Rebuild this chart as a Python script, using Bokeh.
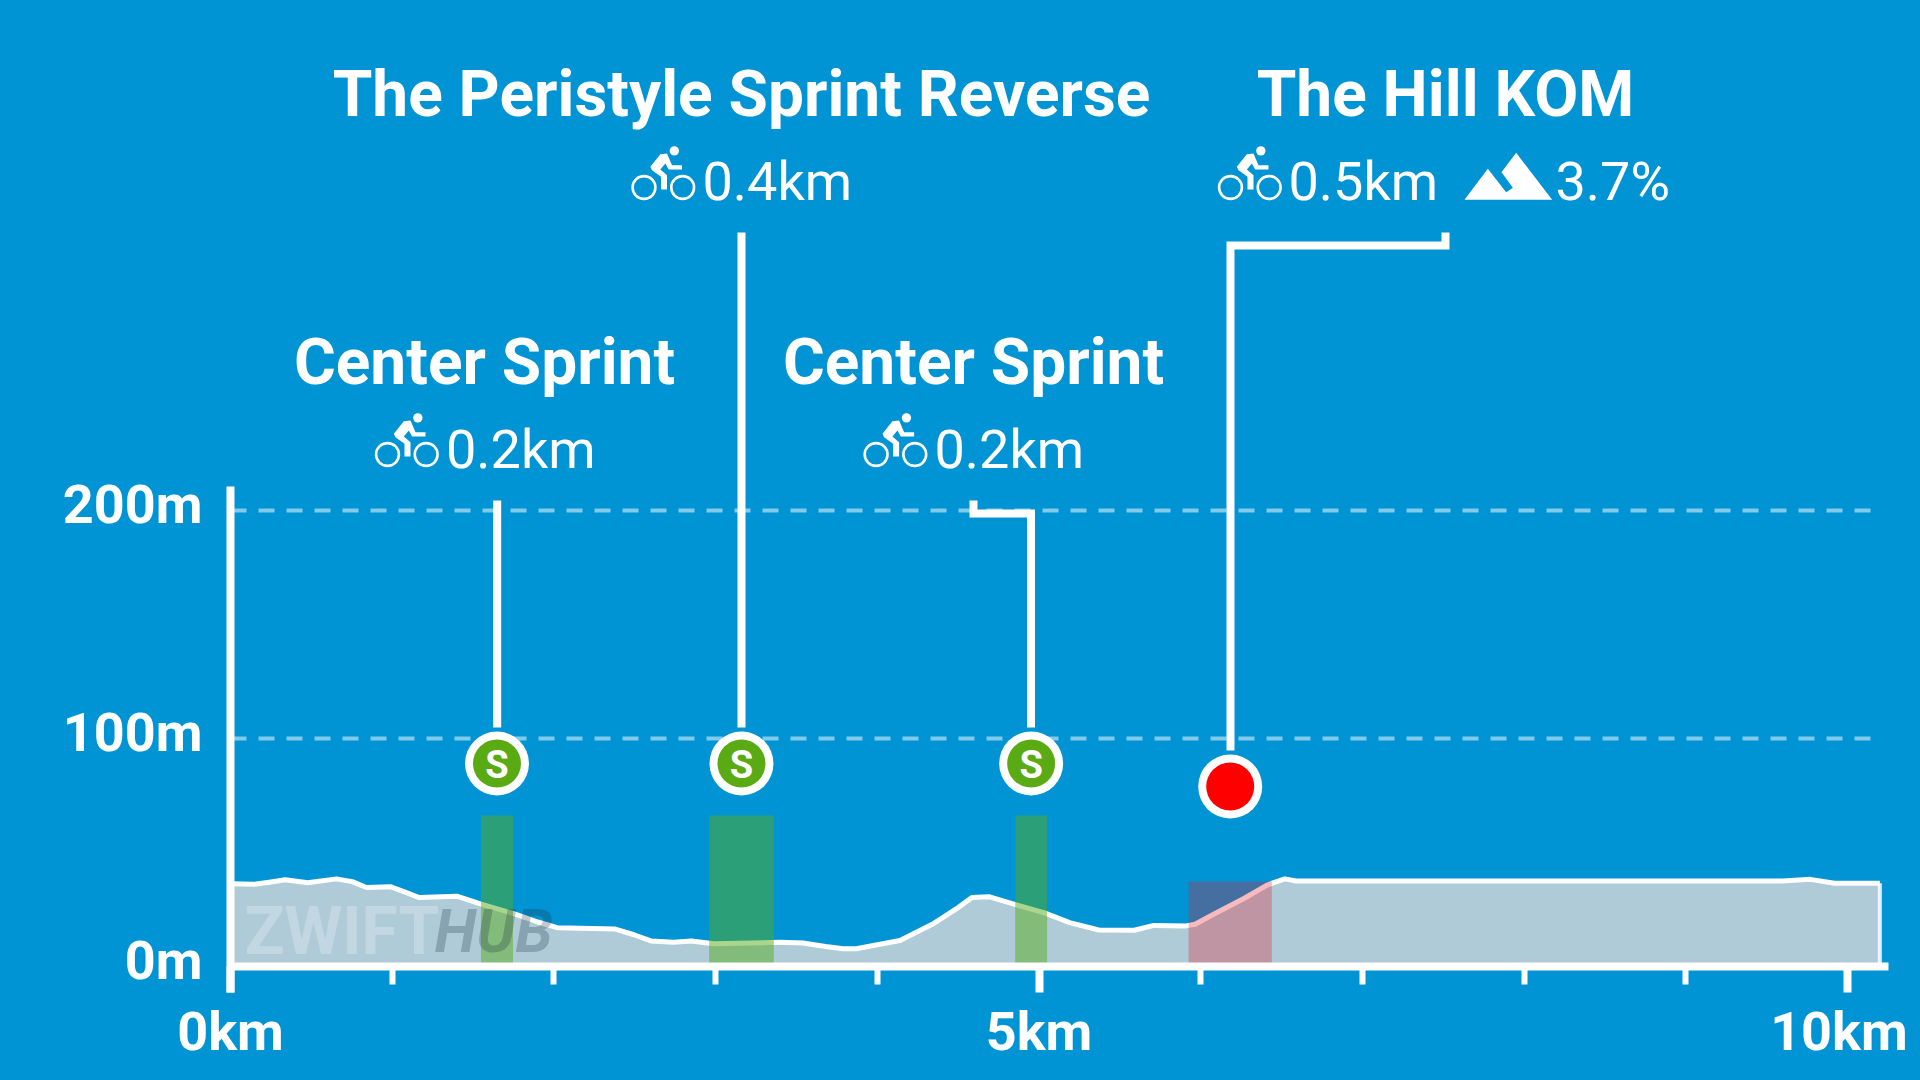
from bokeh.plotting import figure
from bokeh.models import Range1d, LinearAxis, FixedTicker, Grid
from bokeh.core.properties import value
from bokeh.embed import file_html
from bokeh.resources import INLINE

# ---- data -------------------------------------------------------------
dist_km = [0.0, 0.146, 0.24, 0.339, 0.477, 0.656, 0.753, 0.841, 0.988, 1.08, 1.167, 1.40, 1.55, 1.747,
           1.9, 2.02, 2.38, 2.50, 2.60, 2.74, 2.85, 2.99, 3.40, 3.54, 3.68, 3.79, 3.87, 4.14, 4.34, 4.50,
           4.585, 4.69, 4.86, 5.03, 5.19, 5.37, 5.59, 5.71, 5.91, 5.965, 6.08, 6.27, 6.41,
           6.52, 6.59, 9.6, 9.77, 9.92, 10.2]
elev_m = [36.3, 36.0, 36.9, 38.0, 36.7, 38.4, 37.2, 34.6, 35.0, 32.6, 30.2, 30.8, 27.3, 23.3,
          19.5, 17.0, 16.4, 13.8, 11.2, 10.6, 11.2, 10.0, 10.6, 10.3, 8.8, 7.8, 7.8, 11.4, 18.5, 25.8,
          30.2, 30.6, 27.0, 23.6, 19.2, 16.0, 15.9, 18.0, 17.8, 18.5, 22.9, 29.9, 35.7,
          38.4, 37.5, 37.5, 38.2, 36.5, 36.5]
sprint_start = [1.549, 2.96, 4.853]
sprint_end = [1.747, 3.36, 5.05]
sprint_top = [66.2, 66.2, 66.2]
kom_start = [5.925]
kom_end = [6.44]
kom_top = [37.3]
x_major = [0, 5, 10]
x_minor = [1, 2, 3, 4, 6, 7, 8, 9]
y_major = [0, 100, 200]
grid_lines = [100, 200]
x_label_text = ["0km", "5km", "10km"]
y_label_text = ["0m", "100m", "200m"]
titles = ["Center Sprint", "The Peristyle Sprint Reverse", "Center Sprint", "The Hill KOM"]
lengths = ["0.2km", "0.4km", "0.2km", "0.5km"]
grade = "3.7%"

# ---- layout -----------------------------------------------------------
BG = "#0094d4"
W, H = 1920, 1080
PX_PER_KM = 161.7
PX_PER_M = 2.2815
X0, Y0 = 230.0, 966.0
km = lambda px: (px - X0) / PX_PER_KM
mt = lambda py: (Y0 - py) / PX_PER_M
base = lambda y, size: y - 0.34 * size   # text glyph baseline compensation

p = figure(width=W, height=H, output_backend="svg", toolbar_location=None,
           x_range=Range1d(km(0), km(W)), y_range=Range1d(mt(H), mt(0)),
           x_axis_type=None, y_axis_type=None, min_border=0,
           background_fill_color=BG, border_fill_color=BG, outline_line_color=None)
p.grid.visible = False
p.extra_x_ranges = {"px": Range1d(0, W)}
p.extra_y_ranges = {"px": Range1d(H, 0)}
PX = dict(x_range_name="px", y_range_name="px")

# grid
p.add_layout(Grid(dimension=1, ticker=FixedTicker(ticks=grid_lines), cross_bounds=(0, km(1872)),
                  grid_line_color="white", grid_line_alpha=0.5, grid_line_width=4,
                  grid_line_dash="16 12"))

# profile
p.varea(dist_km, y1=[0] * len(dist_km), y2=elev_m, fill_color="#afcbd8")
p.line(dist_km, elev_m, line_color="white", line_width=5, line_join="round")
p.line([dist_km[-1], dist_km[-1]], [elev_m[-1], 0], line_color="white", line_width=4, line_alpha=0.85)

# segments
p.quad(left=sprint_start, right=sprint_end, bottom=0, top=sprint_top,
       fill_color="#56ab1c", fill_alpha=0.5, line_color=None)
p.quad(left=kom_start, right=kom_end, bottom=0, top=kom_top,
       fill_color="#e61b28", fill_alpha=0.3, line_color=None)

# watermark
p.text([244], [base(953, 65)], text=["ZWIFT"], text_font=value("Roboto"), text_font_style="bold",
       text_font_size="66px", text_color="white", text_alpha=0.24, text_baseline="alphabetic", **PX)
p.text([434], [base(953, 65)], text=["HUB"], text_font=value("Roboto"), text_font_style="bold italic",
       text_font_size="61px", text_color="#17303f", text_alpha=0.26, text_baseline="alphabetic", **PX)

# leader lines
W_L = 8
for xs, ys in [([496.7, 496.7], [500, 727]),
               ([741, 741], [232, 727]),
               ([973, 973, 1030.5, 1030.5], [500, 513, 513, 727]),
               ([1230, 1230, 1445, 1445], [750, 245, 245, 232])]:
    p.line(xs, ys, line_color="white", line_width=W_L, line_join="miter", line_cap="butt", **PX)

# markers
mk_x = [(a + b) / 2 for a, b in zip(sprint_start, sprint_end)]
p.scatter(mk_x, [mt(763)] * 3, size=64, marker="circle", fill_color="white", line_color=None)
p.scatter(mk_x, [mt(763)] * 3, size=48, marker="circle", fill_color="#5aaa14", line_color=None)
p.text(mk_x, [mt(764)] * 3, text=["S"] * 3, text_font=value("Roboto"), text_font_style="bold",
       text_font_size="38px", text_color="white", text_align="center", text_baseline="middle")
kom_mid = (kom_start[0] + kom_end[0]) / 2
p.scatter([kom_mid], [mt(786)], size=64, marker="circle", fill_color="white", line_color=None)
p.scatter([kom_mid], [mt(786)], size=48, marker="circle", fill_color="#ff0000", line_color=None)

# titles
TFS = 64
p.text([484, 741, 973, 1445], [base(383.5, TFS), base(116, TFS), base(383.5, TFS), base(116, TFS)],
       text=titles, text_font=value("Roboto"),
       text_font_style="bold", text_font_size=f"{TFS}px", text_color="white",
       text_align="center", text_baseline="alphabetic", **PX)
# lengths
SFS = 54
p.text([445.5, 702, 934, 1288], [base(467, SFS), base(199, SFS), base(467, SFS), base(199, SFS)],
       text=lengths, text_font=value("Roboto"),
       text_font_size=f"{SFS}px", text_color="white", text_baseline="alphabetic", **PX)
p.text([1555], [base(199, SFS)], text=[grade], text_font=value("Roboto"),
       text_font_size=f"{SFS}px", text_color="white", text_baseline="alphabetic", **PX)

# bike icons: offsets in 1/3 px, anchored to the crop origin of the first icon
def bike(ax, ay):
    hx = lambda v: [ax + a / 3 for a in v]
    hy = lambda v: [ay + a / 3 for a in v]
    p.circle(hx([172]), hy([52]), radius=4.7, fill_color="white", line_color=None, **PX)
    p.patch(hx([100, 130, 150, 165, 195, 195, 155, 145, 130, 150, 150, 132, 132, 105]),
            hy([100, 62, 60, 95, 95, 108, 108, 90, 108, 125, 168, 168, 130, 110]),
            fill_color="white", line_color=None, **PX)
    for cx in (81, 197):
        p.circle(hx([cx]), hy([162]), radius=11.4, fill_color=None, line_color="white", line_width=2.6, **PX)

for ax, ay in [(360, 400), (616.5, 133), (848.6, 400), (1203, 133)]:
    bike(ax, ay)

# mountain icon
mx = [852, 922, 977, 997, 963, 1007, 1115]
my = [208, 115, 185, 172, 125, 67, 208]
p.patch([1180 + v / 3 for v in mx], [130 + v / 3 for v in my], fill_color="white", line_color=None, **PX)

# axes: line and ticks on one axis, labels (nudged like the reference) on another
xa = LinearAxis(fixed_location=0, bounds=(0, km(1888)), level="overlay",
                ticker=FixedTicker(ticks=x_major, minor_ticks=x_minor),
                major_label_text_font_size="0px", major_label_text_color=None,
                axis_line_color="white", axis_line_width=8,
                major_tick_line_color="white", major_tick_line_width=8, major_tick_out=26, major_tick_in=0,
                minor_tick_line_color="white", minor_tick_line_width=6, minor_tick_out=18, minor_tick_in=0)
p.add_layout(xa, "below")
X_LABEL_POS = [0, 5, 9.947]   # the last label is pulled in to stay on the canvas
xl = LinearAxis(fixed_location=0, level="overlay", axis_line_color=None,
                ticker=FixedTicker(ticks=X_LABEL_POS),
                major_label_overrides=dict(zip(X_LABEL_POS, x_label_text)),
                major_tick_line_color=None, minor_tick_line_color=None, major_tick_out=26, major_tick_in=0,
                major_label_text_color="white", major_label_text_font="Roboto",
                major_label_text_font_style="bold", major_label_text_font_size="54px",
                major_label_standoff=7)
p.add_layout(xl, "below")
LABEL_SHIFT_M = 2.6   # the y labels sit a little above their gridlines
Y_LABEL_POS = [v + LABEL_SHIFT_M for v in y_major]
ya = LinearAxis(fixed_location=0, bounds=(mt(992), mt(486)), level="overlay",
                ticker=FixedTicker(ticks=Y_LABEL_POS),
                major_label_overrides=dict(zip(Y_LABEL_POS, y_label_text)),
                axis_line_color="white", axis_line_width=8,
                major_tick_line_color=None, minor_tick_line_color=None, major_tick_out=0, major_tick_in=0,
                major_label_text_color="white", major_label_text_font="Roboto",
                major_label_text_font_style="bold", major_label_text_font_size="54px",
                major_label_standoff=28)
p.add_layout(ya, "left")

html = file_html(p, INLINE)
html = html.replace("<head>", "<head><style>html,body{margin:0;padding:0;background:%s;overflow:hidden}</style>" % BG, 1)
open("out.html", "w").write(html)
